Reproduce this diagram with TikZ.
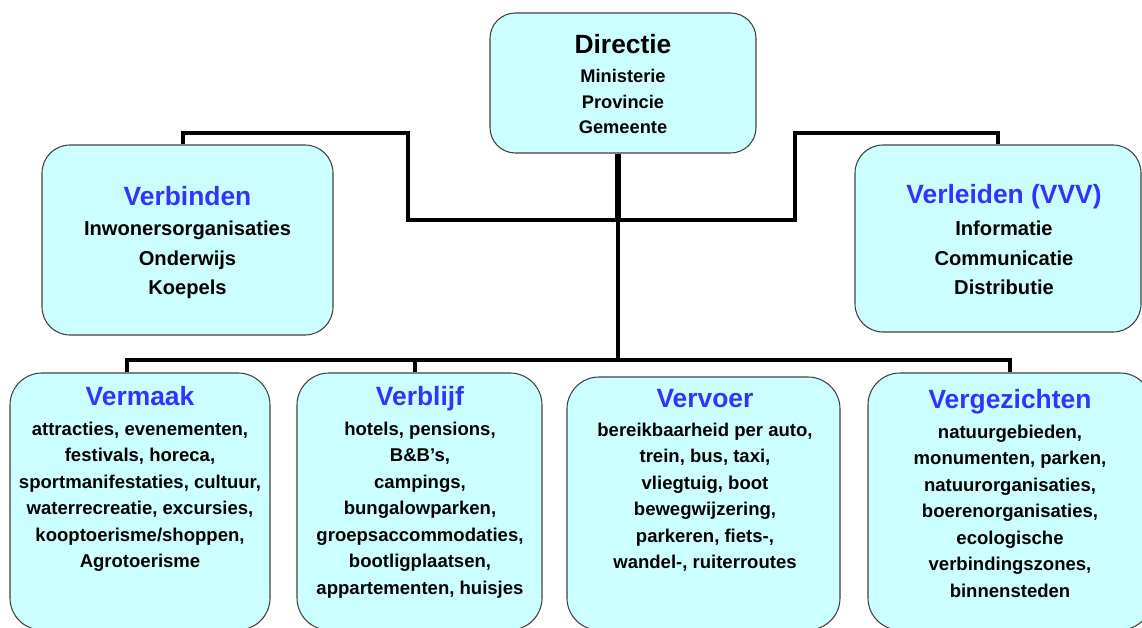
\documentclass[tikz,border=0pt]{standalone}
\usepackage{fontspec}
\setmainfont{Liberation Sans}

\definecolor{vakcyaan}{RGB}{204,255,255}
\definecolor{titelblauw}{RGB}{51,51,255}
\definecolor{randgrijs}{RGB}{64,64,64}

\begin{document}
\begin{tikzpicture}[x=0.75pt, y=-0.75pt,
    vak/.style={draw=randgrijs, fill=vakcyaan, line width=0.8pt, rounded corners=21pt, inner sep=0pt},
    ondervak/.style={vak, rounded corners=24pt, minimum height=192.75pt},
    titel/.style={font=\bfseries\fontsize{19.8}{24}\selectfont, text=titelblauw, anchor=base, inner sep=0pt},
    tekst/.style={font=\bfseries\fontsize{13.9}{19.9}\selectfont, align=center, anchor=north, inner sep=0pt},
    groottekst/.style={tekst, font=\bfseries\fontsize{15.1}{22.25}\selectfont},
    lijn/.style={line width=2.3pt},
    dik/.style={line width=4.5pt}]
    \useasboundingbox (0,0) rectangle (1142,628);
    \clip (0,0) rectangle (1142,628);

    % Draw the top box
    \node[vak, rounded corners=19pt, minimum width=199.5pt, minimum height=105pt] (dir) at (623,83) {};
    \node[titel, text=black] (dir-t) at (623,53) {Directie};
    \node[tekst, font=\bfseries\fontsize{13.7}{19.3}\selectfont] (dir-b) at (623,69) {Ministerie\\Provincie\\Gemeente};

    % Draw the two middle boxes
    \node[vak, minimum width=218.25pt, minimum height=142.5pt] (verb) at (187.5,240) {};
    \node[titel] (verb-t) at (187.5,205) {Verbinden};
    \node[groottekst] (verb-b) at (187.5,220.5) {Inwonersorganisaties\\Onderwijs\\Koepels};

    \node[vak, minimum width=214.5pt, minimum height=140.25pt] (verl) at (998,238.5) {};
    \node[titel] (verl-t) at (1004,203) {Verleiden (VVV)};
    \node[groottekst] (verl-b) at (1004,220.5) {Informatie\\Communicatie\\Distributie};

    % Draw the four bottom boxes
    \node[ondervak, minimum width=195pt] (vermaak) at (140,501.5) {};
    \node[titel] (vermaak-t) at (140,405) {Vermaak};
    \node[tekst] (vermaak-b) at (140,421.6) {attracties, evenementen,\\festivals, horeca,\\sportmanifestaties, cultuur,\\waterrecreatie, excursies,\\kooptoerisme/shoppen,\\Agrotoerisme};

    \node[ondervak, minimum width=183.75pt] (verblijf) at (419.5,501.5) {};
    \node[titel] (verblijf-t) at (420,405) {Verblijf};
    \node[tekst] (verblijf-b) at (420,421.6) {hotels, pensions,\\B\&B’s,\\campings,\\bungalowparken,\\groepsaccommodaties,\\bootligplaatsen,\\appartementen, huisjes};

    \node[ondervak, minimum width=204.75pt, minimum height=189.75pt] (vervoer) at (703.5,503.5) {};
    \node[titel] (vervoer-t) at (705,407) {Vervoer};
    \node[tekst] (vervoer-b) at (705,422.6) {bereikbaarheid per auto,\\trein, bus, taxi,\\vliegtuig, boot\\bewegwijzering,\\parkeren, fiets-,\\wandel-, ruiterroutes};

    \node[ondervak, minimum width=213pt] (vergez) at (1010,501.5) {};
    \node[titel] (vergez-t) at (1010,408) {Vergezichten};
    \node[tekst] (vergez-b) at (1010,424.6) {natuurgebieden,\\monumenten, parken,\\natuurorganisaties,\\boerenorganisaties,\\ecologische\\verbindingszones,\\binnensteden};

    % Draw the connectors
    \coordinate (knoop) at (618,220);
    \coordinate (bus) at (618,360);
    \draw[dik] ([xshift=-3.75pt]dir.south) -- (knoop);
    \draw[lijn] (knoop) -- (bus);
    \draw[lijn] (knoop) -| (408,133) -| ([xshift=-3.4pt]verb.north);
    \draw[lijn] (knoop) -| (795,133) -| (verl.north);
    \draw[lijn] ([xshift=-9.75pt]vermaak.north) |- (bus) -| (vergez.north);
    \draw[lijn] ([xshift=-3.4pt]verblijf.north) -- ([xshift=-3.4pt]verblijf.north |- bus);
\end{tikzpicture}
\end{document}
